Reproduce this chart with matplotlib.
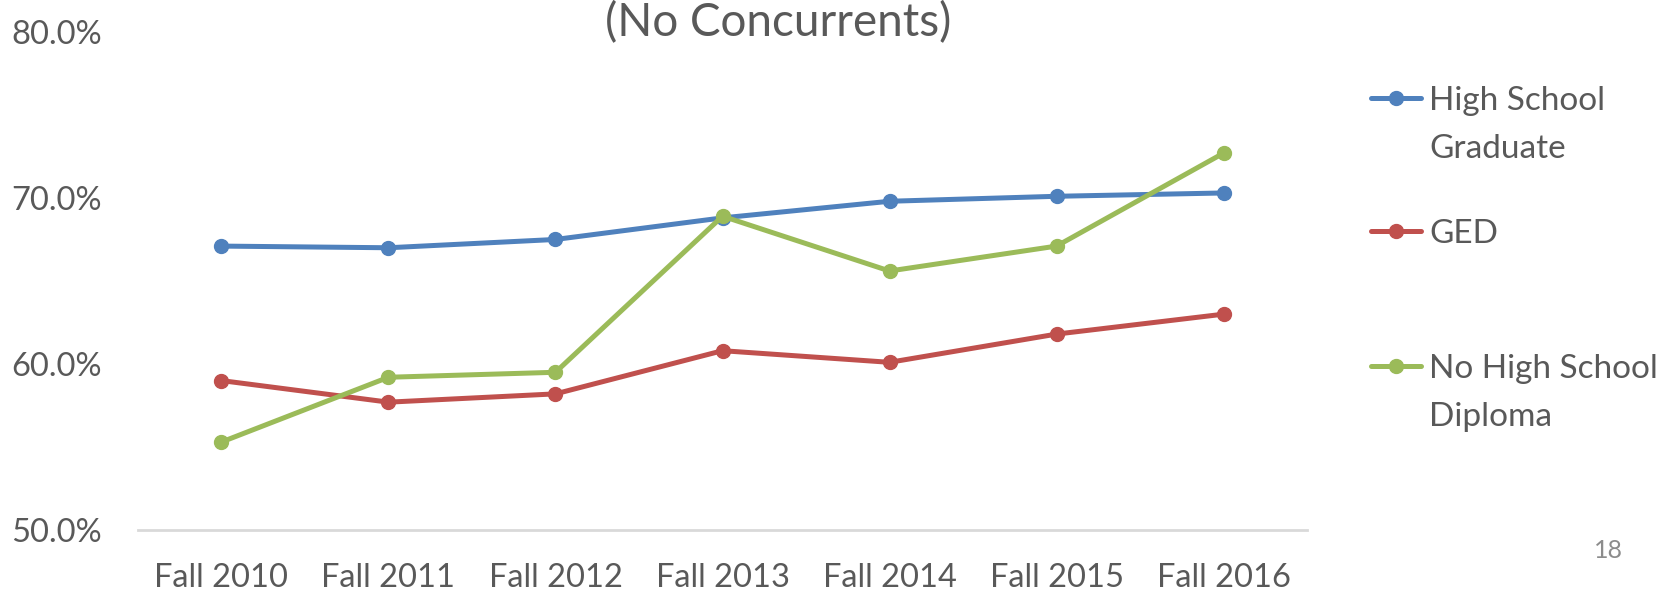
import matplotlib
matplotlib.use("Agg")
import matplotlib.pyplot as plt
from matplotlib.lines import Line2D
from matplotlib.ticker import FuncFormatter

plt.rcParams['font.family'] = ['Lato', 'DejaVu Sans']

categories = ["Fall 2010", "Fall 2011", "Fall 2012", "Fall 2013", "Fall 2014", "Fall 2015", "Fall 2016"]
hs_graduate = [67.1, 67.0, 67.5, 68.8, 69.8, 70.1, 70.3]
ged = [59.0, 57.7, 58.2, 60.8, 60.1, 61.8, 63.0]
no_hs_diploma = [55.3, 59.2, 59.5, 68.9, 65.6, 67.1, 72.7]
series_labels = ["High School\nGraduate", "GED", "No High School\nDiploma"]
colors = ["#4F81BD", "#C0504D", "#9BBB59"]
yticks = [50, 60, 70, 80]

txt = "#595959"
fig = plt.figure(figsize=(16.64, 5.91), dpi=100)
ax = fig.add_axes([0.0829, 0.1032, 0.7026, 0.8428])
x = list(range(len(categories)))
for vals, c in zip([hs_graduate, ged, no_hs_diploma], colors):
    ax.plot(x, vals, color=c, lw=3.6, marker='o', markersize=10, solid_capstyle='round')

ax.set_xlim(-0.5, len(categories) - 0.5)
ax.set_ylim(50, 80)
ax.set_yticks(yticks)
ax.yaxis.set_major_formatter(FuncFormatter(lambda v, p: f"{v:.1f}%"))
ax.set_xticks(x)
ax.set_xticklabels(categories)
for s in ['top', 'right', 'left']:
    ax.spines[s].set_visible(False)
ax.spines['bottom'].set_color('#D9D9D9')
ax.spines['bottom'].set_linewidth(2)
ax.tick_params(axis='both', length=0, labelsize=23.5, colors=txt)
ax.tick_params(axis='y', pad=26)
ax.tick_params(axis='x', pad=24)

# title (partially cut off at top)
fig.text(0.4675, 0.962, "(No Concurrents)", ha='center', va='center', fontsize=33, color=txt)

# legend
leg_y = [1 - 98 / 591, 1 - 231 / 591, 1 - 366 / 591]
gap = 48 / 591
for yy, lab, c in zip(leg_y, series_labels, colors):
    fig.add_artist(Line2D([1371 / 1664, 1421 / 1664], [yy, yy], color=c, lw=3.6,
                          solid_capstyle='round', transform=fig.transFigure))
    fig.add_artist(Line2D([1396 / 1664], [yy], color=c, marker='o', markersize=10,
                          transform=fig.transFigure))
    for i, line in enumerate(lab.split("\n")):
        fig.text(1429 / 1664, yy - i * gap, line, ha='left', va='center_baseline',
                 fontsize=24, color=txt)

fig.text(1608 / 1664, 1 - 550 / 591, "18", ha='center', va='center', fontsize=18, color='#8C8C8C')

fig.savefig("out.png", dpi=100, facecolor='white')
